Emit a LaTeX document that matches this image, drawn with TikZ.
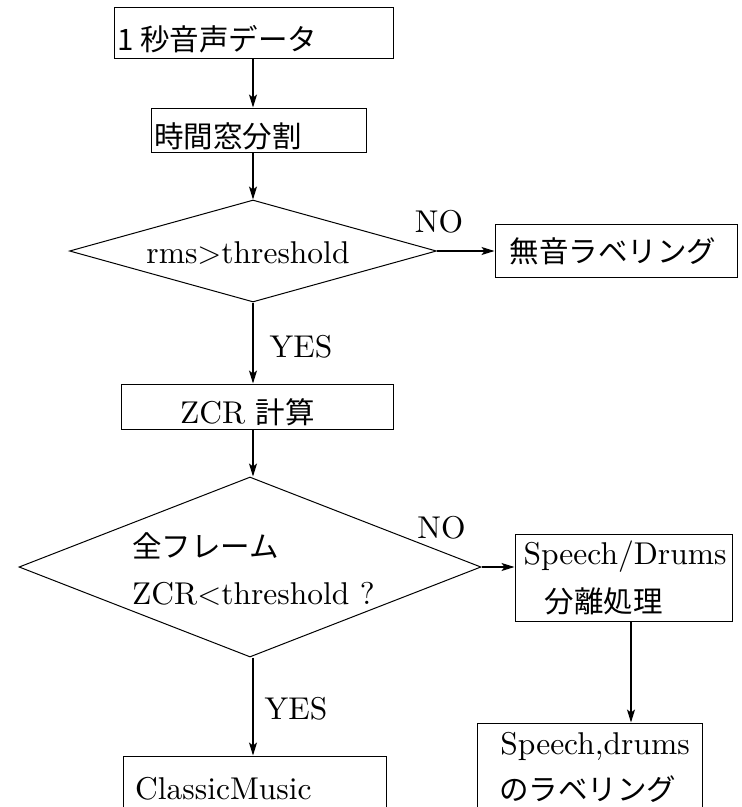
\RequirePackage{fix-cm}
\documentclass[tikz,border=0pt]{standalone}
\usepackage{fontspec}
\setmainfont{lmroman10-regular.otf}
\newfontfamily\jpfont{Noto Sans CJK JP}
\usetikzlibrary{shapes.geometric,arrows.meta}
\newcommand\jtxt[1]{{\jpfont\fontsize{29.5}{34}\selectfont #1}}
\begin{document}
\begin{tikzpicture}[x=1pt,y=-1pt,
  box/.style={draw, line width=1pt, rectangle, inner sep=0pt},
  dia/.style={draw, line width=1pt, diamond, inner sep=0pt},
  arr/.style={line width=1.1pt, -{Stealth[length=13pt,width=8pt,inset=3pt]}},
  en/.style={inner sep=0pt, font=\fontsize{31.5}{36}\selectfont},
  jp/.style={inner sep=0pt, font=\jpfont\fontsize{29.5}{34}\selectfont}]
\useasboundingbox (0,0) rectangle (742,807);
\clip (0,0) rectangle (742,807);
\coordinate (spine) at (253,0);
\coordinate (spine2) at (631,0);
% shapes
\node[box, minimum width=279, minimum height=51] (b1) at (253.5,32.5) {};
\node[box, minimum width=215, minimum height=44] (b2) at (258.5,130) {};
\node[dia, minimum width=367, minimum height=102] (d1) at (253,251) {};
\node[box, minimum width=242, minimum height=53] (mu) at (616,250.5) {};
\node[box, minimum width=272, minimum height=45] (zcr) at (257,406.5) {};
\node[dia, minimum width=462, minimum height=180] (d2) at (250,567) {};
\node[box, minimum width=217, minimum height=87] (sd) at (623.5,577.5) {};
\node[box, minimum width=225, minimum height=107] (lr) at (589.5,776.5) {};
\node[box, minimum width=263, minimum height=148] (cm) at (254.5,830) {};
% texts
\node[jp, anchor=west] (t1) at (117,39) {1 秒音声データ};
\node[jp, anchor=west] (t2) at (154,136.5) {時間窓分割};
\node[en] (t3) at (248,253) {rms$>$threshold};
\node[en] (no1) at (439,222) {NO};
\node[jp] (t4) at (613,251) {無音ラベリング};
\node[en] (yes1) at (301,347) {YES};
\node[en] (t5) at (247.5,412.5) {ZCR \jtxt{計算}};
\node[jp, anchor=west] (t6) at (132,546) {全フレーム};
\node[en, anchor=base west] (t7) at (132,604) {ZCR$<$threshold ?};
\node[en] (no2) at (441.5,527.5) {NO};
\node[en] (t8) at (625,556.5) {Speech/Drums};
\node[jp] (t9) at (603.5,601) {分離処理};
\node[en] (yes2) at (296,708.5) {YES};
\node[en, anchor=west] (t10) at (135,789) {ClassicMusic};
\node[en] (t11) at (595,746) {Speech,drums};
\node[jp] (t12) at (587.5,789.5) {のラベリング};
% connectors
\draw[arr] (spine |- b1.south) -- (spine |- b2.north);
\draw[arr] (spine |- b2.south) -- (d1.north);
\draw[arr] (d1.south) -- (spine |- zcr.north);
\draw[arr] (d1.east) -- (mu.west |- d1.east);
\draw[arr] (spine |- zcr.south) -- (spine |- d2.north);
\draw[arr] (d2.south -| spine) -- (spine |- cm.north);
\draw[arr] (d2.east) -- (sd.west |- d2.east);
\draw[arr] (spine2 |- sd.south) -- (spine2 |- lr.north);
\end{tikzpicture}
\end{document}
